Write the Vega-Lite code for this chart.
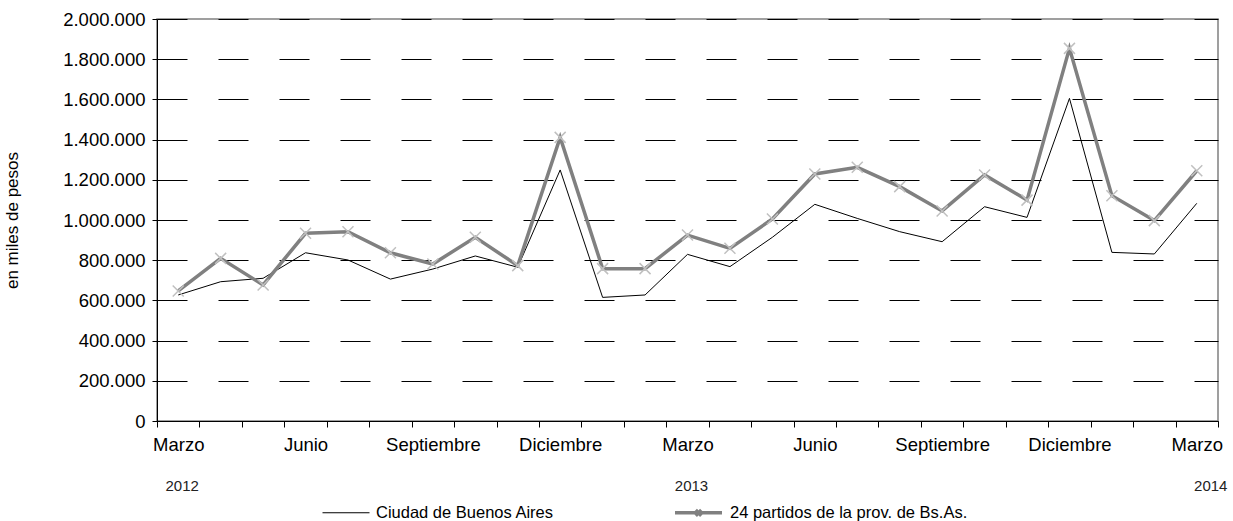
{
  "$schema": "https://vega.github.io/schema/vega-lite/v6.json",
  "width": 1061,
  "height": 402,
  "autosize": "none",
  "padding": {"left": 157, "top": 19, "right": 15, "bottom": 100},
  "background": "white",
  "config": {
    "font": "Liberation Sans",
    "view": {"stroke": "#808080", "strokeWidth": 1.5},
    "axis": {"labelColor": "#000000", "titleColor": "#000000"}
  },
  "data": {
    "values": [
      {"mes": "2012-03", "serie": "Ciudad de Buenos Aires", "valor": 627000},
      {"mes": "2012-04", "serie": "Ciudad de Buenos Aires", "valor": 693000},
      {"mes": "2012-05", "serie": "Ciudad de Buenos Aires", "valor": 710000},
      {"mes": "2012-06", "serie": "Ciudad de Buenos Aires", "valor": 837000},
      {"mes": "2012-07", "serie": "Ciudad de Buenos Aires", "valor": 801000},
      {"mes": "2012-08", "serie": "Ciudad de Buenos Aires", "valor": 706000},
      {"mes": "2012-09", "serie": "Ciudad de Buenos Aires", "valor": 756000},
      {"mes": "2012-10", "serie": "Ciudad de Buenos Aires", "valor": 821000},
      {"mes": "2012-11", "serie": "Ciudad de Buenos Aires", "valor": 765000},
      {"mes": "2012-12", "serie": "Ciudad de Buenos Aires", "valor": 1249000},
      {"mes": "2013-01", "serie": "Ciudad de Buenos Aires", "valor": 615000},
      {"mes": "2013-02", "serie": "Ciudad de Buenos Aires", "valor": 627000},
      {"mes": "2013-03", "serie": "Ciudad de Buenos Aires", "valor": 829000},
      {"mes": "2013-04", "serie": "Ciudad de Buenos Aires", "valor": 768000},
      {"mes": "2013-05", "serie": "Ciudad de Buenos Aires", "valor": 914000},
      {"mes": "2013-06", "serie": "Ciudad de Buenos Aires", "valor": 1078000},
      {"mes": "2013-07", "serie": "Ciudad de Buenos Aires", "valor": 1008000},
      {"mes": "2013-08", "serie": "Ciudad de Buenos Aires", "valor": 942000},
      {"mes": "2013-09", "serie": "Ciudad de Buenos Aires", "valor": 892000},
      {"mes": "2013-10", "serie": "Ciudad de Buenos Aires", "valor": 1066000},
      {"mes": "2013-11", "serie": "Ciudad de Buenos Aires", "valor": 1013000},
      {"mes": "2013-12", "serie": "Ciudad de Buenos Aires", "valor": 1605000},
      {"mes": "2014-01", "serie": "Ciudad de Buenos Aires", "valor": 839000},
      {"mes": "2014-02", "serie": "Ciudad de Buenos Aires", "valor": 831000},
      {"mes": "2014-03", "serie": "Ciudad de Buenos Aires", "valor": 1083000},
      {"mes": "2012-03", "serie": "24 partidos de la prov. de Bs.As.", "valor": 647000},
      {"mes": "2012-04", "serie": "24 partidos de la prov. de Bs.As.", "valor": 809000},
      {"mes": "2012-05", "serie": "24 partidos de la prov. de Bs.As.", "valor": 677000},
      {"mes": "2012-06", "serie": "24 partidos de la prov. de Bs.As.", "valor": 934000},
      {"mes": "2012-07", "serie": "24 partidos de la prov. de Bs.As.", "valor": 942000},
      {"mes": "2012-08", "serie": "24 partidos de la prov. de Bs.As.", "valor": 837000},
      {"mes": "2012-09", "serie": "24 partidos de la prov. de Bs.As.", "valor": 781000},
      {"mes": "2012-10", "serie": "24 partidos de la prov. de Bs.As.", "valor": 914000},
      {"mes": "2012-11", "serie": "24 partidos de la prov. de Bs.As.", "valor": 773000},
      {"mes": "2012-12", "serie": "24 partidos de la prov. de Bs.As.", "valor": 1411000},
      {"mes": "2013-01", "serie": "24 partidos de la prov. de Bs.As.", "valor": 758000},
      {"mes": "2013-02", "serie": "24 partidos de la prov. de Bs.As.", "valor": 758000},
      {"mes": "2013-03", "serie": "24 partidos de la prov. de Bs.As.", "valor": 925000},
      {"mes": "2013-04", "serie": "24 partidos de la prov. de Bs.As.", "valor": 859000},
      {"mes": "2013-05", "serie": "24 partidos de la prov. de Bs.As.", "valor": 1005000},
      {"mes": "2013-06", "serie": "24 partidos de la prov. de Bs.As.", "valor": 1229000},
      {"mes": "2013-07", "serie": "24 partidos de la prov. de Bs.As.", "valor": 1262000},
      {"mes": "2013-08", "serie": "24 partidos de la prov. de Bs.As.", "valor": 1166000},
      {"mes": "2013-09", "serie": "24 partidos de la prov. de Bs.As.", "valor": 1045000},
      {"mes": "2013-10", "serie": "24 partidos de la prov. de Bs.As.", "valor": 1224000},
      {"mes": "2013-11", "serie": "24 partidos de la prov. de Bs.As.", "valor": 1099000},
      {"mes": "2013-12", "serie": "24 partidos de la prov. de Bs.As.", "valor": 1854000},
      {"mes": "2014-01", "serie": "24 partidos de la prov. de Bs.As.", "valor": 1121000},
      {"mes": "2014-02", "serie": "24 partidos de la prov. de Bs.As.", "valor": 997000},
      {"mes": "2014-03", "serie": "24 partidos de la prov. de Bs.As.", "valor": 1245000}
    ]
  },
  "resolve": {"axis": {"x": "independent"}},
  "layer": [
    {
      "mark": {"type": "line"},
      "encoding": {
        "x": {
          "field": "mes",
          "type": "ordinal",
          "sort": null,
          "scale": {"type": "band", "paddingInner": 0, "paddingOuter": 0},
          "axis": {
            "orient": "bottom",
            "title": null,
            "tickBand": "extent",
            "tickSize": 6,
            "tickColor": "#000000",
            "domainColor": "#000000",
            "labelAngle": 0,
            "labelFontSize": 18.5,
            "labelPadding": 8,
            "labelOverlap": false,
            "labelBound": false,
            "labelExpr": "slice(datum.value+'',5)=='03' ? 'Marzo' : slice(datum.value+'',5)=='06' ? 'Junio' : slice(datum.value+'',5)=='09' ? 'Septiembre' : slice(datum.value+'',5)=='12' ? 'Diciembre' : ''"
          }
        },
        "y": {
          "field": "valor",
          "type": "quantitative",
          "scale": {"domain": [0, 2000000], "nice": false},
          "axis": {
            "title": "en miles de pesos",
            "titleFontSize": 17,
            "titleFontWeight": "normal",
            "titlePadding": 41,
            "values": [0, 200000, 400000, 600000, 800000, 1000000, 1200000, 1400000, 1600000, 1800000, 2000000],
            "labelExpr": "replace(format(datum.value, ','), regexp(',', 'g'), '.')",
            "labelFontSize": 18.5,
            "labelPadding": 7,
            "tickSize": 5,
            "tickColor": "#000000",
            "domainColor": "#000000",
            "grid": true,
            "gridColor": "#000000",
            "gridDash": [30, 31],
            "gridWidth": 1,
            "gridOpacity": 1
          }
        },
        "color": {
          "field": "serie",
          "type": "nominal",
          "scale": {"domain": ["Ciudad de Buenos Aires", "24 partidos de la prov. de Bs.As."], "range": ["#000000", "#808080"]},
          "legend": {
            "title": null,
            "orient": "none",
            "legendX": 165,
            "legendY": 468,
            "direction": "horizontal",
            "padding": 0,
            "symbolSize": 2209,
            "symbolType": "stroke",
            "labelFontSize": 16.5,
            "labelColor": "#000000",
            "labelOffset": 6,
            "labelLimit": 400,
            "columnPadding": 114,
            "encode": {
              "symbols": {
                "update": {
                  "size": {"value": 2209},
                  "shape": {"signal": "datum.value == 'Ciudad de Buenos Aires' ? 'M-1,0L1,0' : 'M-1,0L1,0M-0.12,-0.12L0.12,0.12M-0.12,0.12L0.12,-0.12'"},
                  "strokeWidth": {"signal": "datum.value == 'Ciudad de Buenos Aires' ? 1 : 3.5"}
                }
              }
            }
          }
        },
        "strokeWidth": {
          "field": "serie",
          "type": "nominal",
          "scale": {"domain": ["Ciudad de Buenos Aires", "24 partidos de la prov. de Bs.As."], "range": [1, 3.5]},
          "legend": null
        }
      }
    },
    {
      "transform": [{"filter": "datum.serie == '24 partidos de la prov. de Bs.As.'"}],
      "mark": {"type": "point", "shape": "M-1,-1L1,1M-1,1L1,-1", "filled": false, "stroke": "#c0c0c0", "strokeWidth": 1.5, "size": 121, "opacity": 1},
      "encoding": {
        "x": {
          "field": "mes",
          "type": "ordinal",
          "sort": null,
          "scale": {"type": "band", "paddingInner": 0, "paddingOuter": 0},
          "axis": {
            "orient": "bottom",
            "title": null,
            "domain": false,
            "ticks": false,
            "labelAngle": 0,
            "labelFontSize": 15,
            "labelPadding": 57,
            "labelOverlap": false,
            "labelBound": false,
            "labelColor": "#222222",
            "labelOffset": {"condition": {"test": "datum.value == '2014-03'", "value": 14}, "value": 4},
            "labelExpr": "slice(datum.value+'',5)=='03' ? slice(datum.value+'',0,4) : ''"
          }
        },
        "y": {"field": "valor", "type": "quantitative"}
      }
    }
  ]
}
